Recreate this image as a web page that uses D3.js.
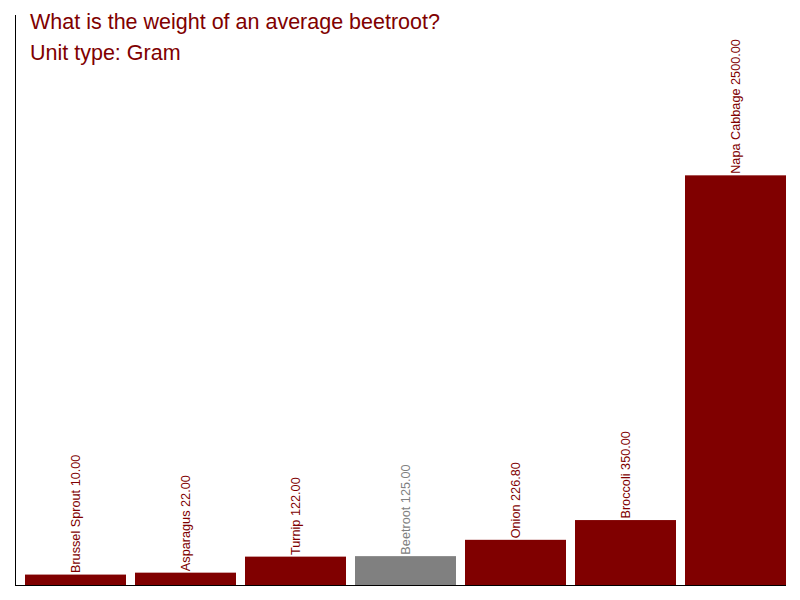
<!DOCTYPE html>
<html>
<head>
<meta charset="utf-8">
<script src="https://cdn.jsdelivr.net/npm/d3@7"></script>
<style>
  html, body { margin: 0; padding: 0; background: #fff; }
  svg { display: block; font-family: "Liberation Sans", Arial, sans-serif; }
</style>
</head>
<body>
<svg id="chart" width="800" height="600"></svg>
<script>
const categories = ["Brussel Sprout", "Asparagus", "Turnip", "Beetroot", "Onion", "Broccoli", "Napa Cabbage"];
const values = [10, 22, 122, 125, 226.8, 350, 2500];
const highlight = ["Beetroot"];
const titleLines = ["What is the weight of an average beetroot?", "Unit type: Gram"];

const svg = d3.select("#chart");
const x0 = 15, yBase = 585, yTop = 15;

const x = d3.scaleBand().domain(categories).range([20, 790])
  .paddingInner(10 / 110).paddingOuter(5 / 110);
const y = d3.scaleLinear().domain([-55, 3500]).range([yBase, yTop]);

const data = categories.map((c, i) => ({ c, v: values[i] }));
const color = d => highlight.includes(d.c) ? "#808080" : "#800000";

svg.append("g").selectAll("rect").data(data).enter().append("rect")
  .attr("x", d => x(d.c))
  .attr("width", x.bandwidth() + 1)
  .attr("y", d => y(d.v))
  .attr("height", d => yBase - y(d.v))
  .attr("fill", color);

svg.append("g").selectAll("text").data(data).enter().append("text")
  .attr("transform", d => `translate(${x(d.c) + x.bandwidth() / 2 + 0.5},${y(d.v) - 1.5}) rotate(-90)`)
  .attr("dy", "0.35em")
  .attr("text-anchor", "start")
  .attr("font-size", 12.7)
  .attr("fill", color)
  .text(d => `${d.c} ${d.v.toFixed(2)}`);

svg.append("line").attr("x1", x0 + 0.5).attr("x2", x0 + 0.5).attr("y1", yTop).attr("y2", yBase + 0.5)
  .attr("stroke", "#000").attr("stroke-width", 1);
svg.append("line").attr("x1", x0).attr("x2", 786).attr("y1", yBase + 0.5).attr("y2", yBase + 0.5)
  .attr("stroke", "#000").attr("stroke-width", 1);

svg.append("g").selectAll("text").data(titleLines).enter().append("text")
  .attr("x", 30)
  .attr("y", (d, i) => 29 + i * 31)
  .attr("font-size", 21.5)
  .attr("fill", "#800000")
  .text(d => d);
</script>
</body>
</html>
